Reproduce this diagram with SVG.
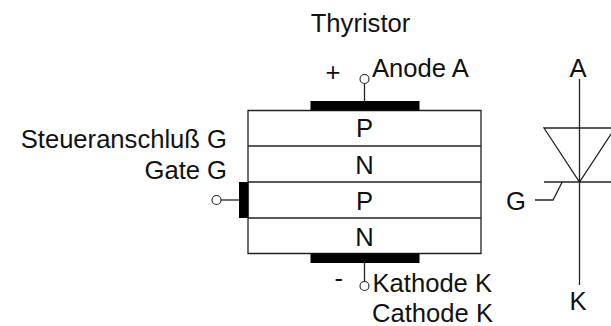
<svg xmlns="http://www.w3.org/2000/svg" width="611" height="326" viewBox="0 0 611 326">
<style>
text{font-family:"Liberation Sans",Arial,sans-serif;font-size:25.600px;fill:#111}
.m{text-anchor:middle}.e{text-anchor:end}
.l{stroke:#222;stroke-width:1.3;fill:none}
.b{fill:#000}
.c{fill:#fff;stroke:#222;stroke-width:1.1}
</style>
<rect width="611" height="326" fill="#fff"/>
<text x="360.500" y="32" class="m">Thyristor</text>
<g id="layers">
<path class="l" d="M248 110.500H481V253.500H248Z"/>
<path class="l" d="M248 146H481M248 182H481M248 218H481"/>
<text x="364.500" y="137" class="m">P</text>
<text x="364.500" y="174" class="m">N</text>
<text x="364.500" y="210" class="m">P</text>
<text x="364.500" y="246" class="m">N</text>
</g>
<g id="anode">
<rect class="b" x="310.500" y="101" width="109" height="9.500"/>
<path class="l" d="M364.500 84V101"/>
<circle class="c" cx="364.500" cy="79" r="4.500"/>
<text x="325.500" y="81">+</text>
<text x="372" y="77">Anode A</text>
</g>
<g id="cathode">
<rect class="b" x="310.500" y="253.500" width="109" height="9.500"/>
<path class="l" d="M364.500 263V282"/>
<circle class="c" cx="364.500" cy="286" r="4.500"/>
<text x="334.500" y="287">-</text>
<text x="372.500" y="292">Kathode K</text>
<text x="493" y="322" class="e">Cathode K</text>
</g>
<g id="gate">
<rect class="b" x="239" y="182" width="9.500" height="36"/>
<path class="l" d="M221 200H239"/>
<circle class="c" cx="216.500" cy="200" r="4.500"/>
<text x="227" y="148" class="e">Steueranschluß G</text>
<text x="227" y="179" class="e">Gate G</text>
</g>
<g id="symbol">
<path class="l" d="M579.500 79V285M544 128H615L579.500 182ZM544 182H615M562 182.500L553 200H535"/>
<text x="578" y="77" class="m">A</text>
<text x="578" y="310" class="m">K</text>
<text x="516" y="210" class="m">G</text>
</g>
</svg>
